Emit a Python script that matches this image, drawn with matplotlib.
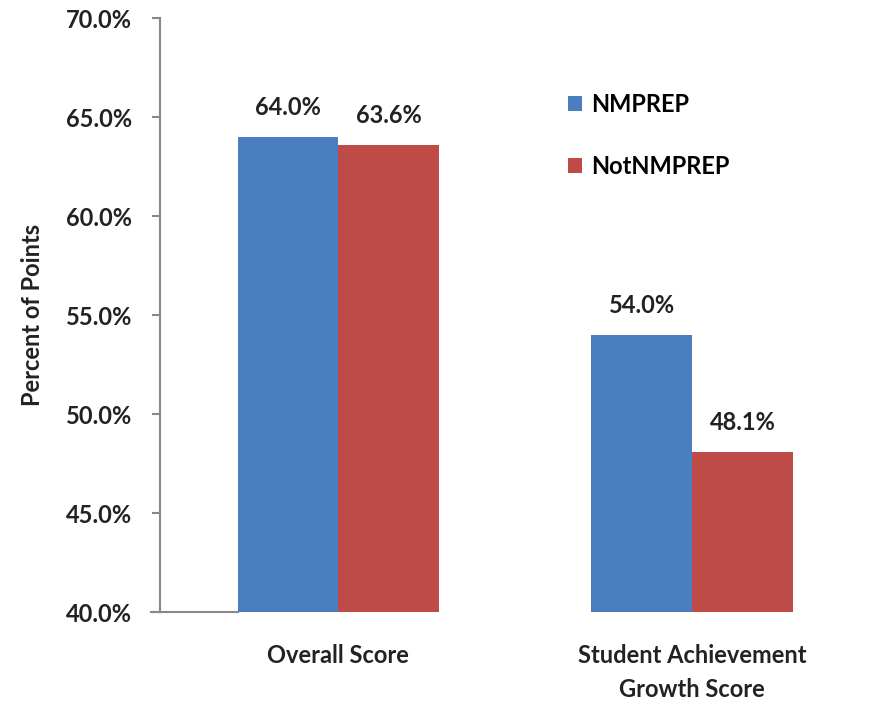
import matplotlib.pyplot as plt
import numpy as np

categories = ["Overall Score", "Student Achievement\nGrowth Score"]
nmprep = [64.0, 54.0]
not_nmprep = [63.6, 48.1]
series_names = ["NMPREP", "NotNMPREP"]
yticks = [40, 45, 50, 55, 60, 65, 70]

blue = "#4A7EBF"
red = "#BE4B48"
txt = "#222222"
plt.rcParams['font.family'] = ['Lato', 'DejaVu Sans']

fig = plt.figure(figsize=(8.75, 7.02), dpi=100)
ax = fig.add_axes([0.183, 0.128, 0.81, 0.846])

x = np.arange(len(categories))
w = 0.285
b1 = ax.bar(x - w / 2, nmprep, w, color=blue, label=series_names[0])
b2 = ax.bar(x + w / 2, not_nmprep, w, color=red, label=series_names[1])

for bars, vals in [(b1, nmprep), (b2, not_nmprep)]:
    for r, v in zip(bars, vals):
        ax.text(r.get_x() + r.get_width() / 2, v + 0.9, f"{v:.1f}%",
                ha="center", va="bottom", fontsize=17, fontweight="bold",
                color=txt)

ax.set_ylim(40, 70)
ax.set_xlim(-0.504, 1.5)
ax.set_yticks(yticks)
ax.set_yticklabels([f"{t:.1f}%" for t in yticks], fontsize=17,
                   fontweight="bold", color=txt)
ax.set_xticks(x)
ax.set_xticklabels(categories, fontsize=17, fontweight="bold",
                   color=txt, linespacing=1.55)
ax.tick_params(axis="y", length=6, width=1.5, color="#888888", pad=14)
ax.tick_params(axis="x", length=0, pad=23)
ax.set_ylabel("Percent of Points", fontsize=17, fontweight="bold",
              color=txt, labelpad=16)

for s in ["top", "right"]:
    ax.spines[s].set_visible(False)
ax.spines["left"].set_color("#888888")
ax.spines["left"].set_linewidth(1.5)
ax.spines["bottom"].set_color("#888888")
ax.spines["bottom"].set_linewidth(1.5)
ax.spines["bottom"].set_bounds(-0.53, -w)
ax.spines["bottom"].set_clip_on(False)

ax.legend(loc="upper left", bbox_to_anchor=(0.545, 0.91), frameon=False,
          prop={"size": 17, "weight": "bold"}, handlelength=0.6,
          handleheight=0.6, labelspacing=1.65, handletextpad=0.4)

fig.savefig("out.png", dpi=100)
